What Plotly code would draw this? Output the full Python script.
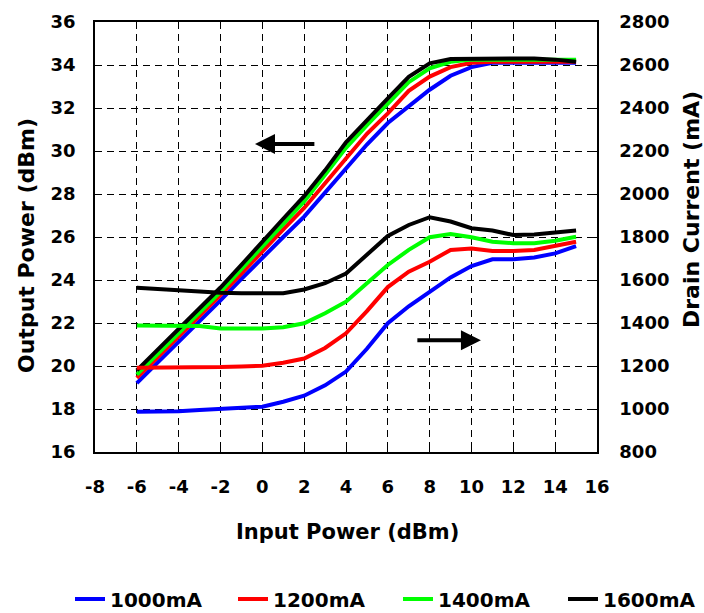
import plotly.graph_objects as go

# ---- data ----
input_power = [-6, -5, -4, -3, -2, -1, 0, 1, 2, 3, 4, 5, 6, 7, 8, 9, 10, 11, 12, 13, 14, 15]

pout_1000 = [19.2, 20.15, 21.1, 22.05, 23.05, 24.05, 25.05, 26.0, 26.95, 28.05, 29.2, 30.3, 31.3, 32.05, 32.85, 33.5, 33.9, 34.1, 34.12, 34.12, 34.12, 34.1]
pout_1200 = [19.45, 20.4, 21.35, 22.3, 23.3, 24.3, 25.35, 26.35, 27.35, 28.5, 29.7, 30.8, 31.75, 32.8, 33.46, 33.9, 34.1, 34.15, 34.15, 34.15, 34.15, 34.15]
pout_1400 = [19.6, 20.55, 21.5, 22.45, 23.45, 24.5, 25.55, 26.6, 27.65, 28.9, 30.15, 31.2, 32.22, 33.2, 33.85, 34.15, 34.25, 34.25, 34.25, 34.25, 34.25, 34.25]
pout_1600 = [19.8, 20.75, 21.7, 22.65, 23.65, 24.7, 25.8, 26.85, 27.9, 29.1, 30.4, 31.45, 32.45, 33.45, 34.08, 34.28, 34.3, 34.3, 34.3, 34.3, 34.25, 34.15]

idd_1000 = [987, 988, 990, 995, 1000, 1003, 1011, 1034, 1062, 1110, 1174, 1280, 1399, 1478, 1546, 1612, 1665, 1696, 1696, 1705, 1724, 1758]
idd_1200 = [1192, 1192, 1193, 1194, 1195, 1198, 1201, 1215, 1235, 1284, 1352, 1455, 1567, 1639, 1685, 1740, 1747, 1735, 1735, 1740, 1758, 1778]
idd_1400 = [1388, 1388, 1388, 1386, 1375, 1375, 1375, 1380, 1399, 1445, 1499, 1585, 1670, 1740, 1799, 1814, 1799, 1778, 1771, 1771, 1783, 1801]
idd_1600 = [1564, 1558, 1550, 1545, 1541, 1538, 1538, 1538, 1556, 1585, 1630, 1715, 1805, 1856, 1892, 1872, 1841, 1830, 1809, 1812, 1820, 1830]

series_names = ["1000mA", "1200mA", "1400mA", "1600mA"]
colors = ["#0000FF", "#FF0000", "#00FF00", "#000000"]

x_ticks = list(range(-8, 17, 2))
y_ticks = list(range(16, 37, 2))
y2_ticks = list(range(800, 2801, 200))

FONT = "DejaVu Sans"

fig = go.Figure()
pouts = [pout_1000, pout_1200, pout_1400, pout_1600]
idds = [idd_1000, idd_1200, idd_1400, idd_1600]
legend_ids = ["legend", "legend2", "legend3", "legend4"]

for name, col, p, lg in zip(series_names, colors, pouts, legend_ids):
    fig.add_trace(go.Scatter(x=input_power, y=p, mode="lines", name=name,
                             line=dict(color=col, width=4), yaxis="y", legend=lg))
for name, col, c in zip(series_names, colors, idds):
    fig.add_trace(go.Scatter(x=input_power, y=c, mode="lines", name=name,
                             line=dict(color=col, width=4), yaxis="y2",
                             showlegend=False))

tickfont = dict(family=FONT, size=18, color="black", weight="bold")
titlefont = dict(family=FONT, size=21, color="black", weight="bold")
vtitlefont = dict(family=FONT, size=22, color="black", weight="bold")
legendfont = dict(family=FONT, size=20, color="black", weight="bold")

legend_left_px = [70, 233, 398, 563]
legend_layout = {}
for lg, lx in zip(legend_ids, legend_left_px):
    legend_layout[lg] = dict(orientation="h", xref="container", yref="container",
                             x=lx / 704, xanchor="left", y=1 - 599 / 613, yanchor="middle",
                             font=legendfont, bgcolor="rgba(0,0,0,0)", borderwidth=0)

fig.update_layout(
    width=704, height=613,
    margin=dict(l=95, r=107, t=22, b=161),
    paper_bgcolor="white", plot_bgcolor="white",
    font=dict(family=FONT, color="black"),
    showlegend=True,
    xaxis=dict(range=[-8, 16], tickvals=x_ticks, ticktext=[str(v) for v in x_ticks],
               showgrid=True, gridcolor="black", gridwidth=1, griddash="7px,5px",
               zeroline=False, showline=True, linecolor="black", linewidth=1.5,
               mirror=True, ticks="inside", ticklen=5, tickcolor="black",
               tickfont=tickfont, ticklabelstandoff=18),
    yaxis=dict(range=[16, 36], tickvals=y_ticks, ticktext=[str(v) for v in y_ticks],
               showgrid=True, gridcolor="black", gridwidth=1, griddash="7px,5px",
               zeroline=False, showline=True, linecolor="black", linewidth=1.5,
               ticks="inside", ticklen=5, tickcolor="black",
               tickfont=tickfont, ticklabelstandoff=14),
    yaxis2=dict(range=[800, 2800], tickvals=y2_ticks, ticktext=[str(v) for v in y2_ticks],
                overlaying="y", side="right", showgrid=False, zeroline=False,
                showline=True, linecolor="black", linewidth=1.5,
                ticks="inside", ticklen=5, tickcolor="black",
                tickfont=tickfont, ticklabelstandoff=17),
    **legend_layout,
)

annotations = [
    dict(text="Output Power (dBm)", xref="paper", yref="paper", x=(26 - 95) / 502, y=(452 - 246) / 430,
         textangle=-90, showarrow=False, font=vtitlefont, xanchor="center", yanchor="middle"),
    dict(text="Drain Current (mA)", xref="paper", yref="paper", x=(691 - 95) / 502, y=(452 - 210) / 430,
         textangle=-90, showarrow=False, font=vtitlefont, xanchor="center", yanchor="middle"),
    dict(text="Input Power (dBm)", xref="paper", yref="paper", x=0.502, y=-0.186,
         showarrow=False, font=titlefont, xanchor="center", yanchor="middle"),
    # arrows indicating which axis each family uses
    dict(text="", x=-0.35, y=30.33, ax=2.56, ay=30.33, xref="x", yref="y",
         axref="x", ayref="y", showarrow=True, arrowhead=2, arrowsize=1,
         arrowwidth=4, arrowcolor="black"),
    dict(text="", x=10.45, y=21.2, ax=7.34, ay=21.2, xref="x", yref="y",
         axref="x", ayref="y", showarrow=True, arrowhead=2, arrowsize=1,
         arrowwidth=4, arrowcolor="black"),
]
fig.update_layout(annotations=annotations)

fig.write_html("out.html")
